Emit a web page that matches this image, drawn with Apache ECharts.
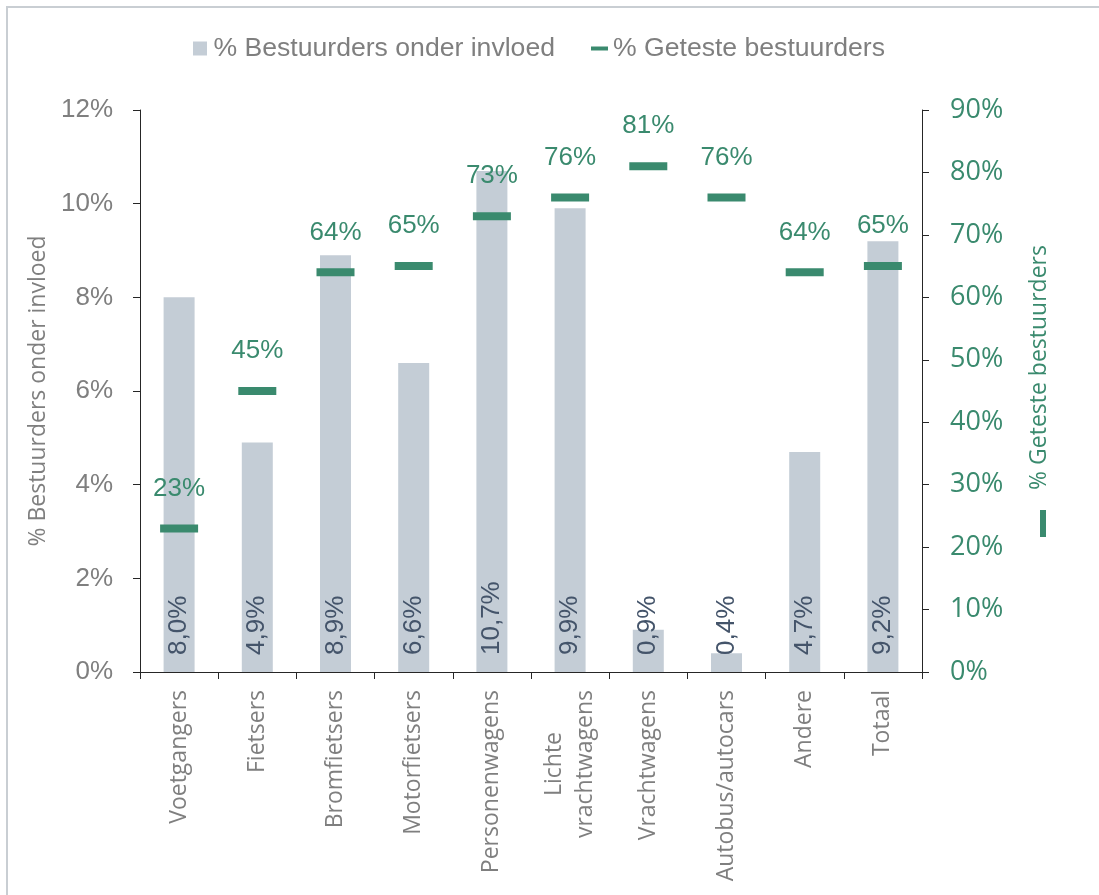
<!DOCTYPE html>
<html>
<head>
<meta charset="utf-8">
<script src="https://cdn.jsdelivr.net/npm/echarts@6/dist/echarts.min.js"></script>
<style>
  html, body { margin: 0; padding: 0; background: #ffffff; }
  #chart { width: 1099px; height: 895px; }
</style>
</head>
<body>
<div id="chart"></div>
<script>
// Road users: share of drivers under influence (bars, left axis)
// and share of drivers tested (dashes, right axis)
const categories = [
  'Voetgangers', 'Fietsers', 'Bromfietsers', 'Motorfietsers', 'Personenwagens',
  'Lichte\nvrachtwagens', 'Vrachtwagens', 'Autobus/autocars', 'Andere', 'Totaal'
];
const underInfluence = [8.0, 4.9, 8.9, 6.6, 10.7, 9.9, 0.9, 0.4, 4.7, 9.2];
const testedShare = [23, 45, 64, 65, 73, 76, 81, 76, 64, 65];

const seriesNames = ['% Bestuurders onder invloed', '% Geteste bestuurders'];
const axisNames = ['% Bestuurders onder invloed', '% Geteste bestuurders'];

const GREEN = '#3a8a6e';
const BAR = '#c4cdd6';
const GRAY = '#7f7f7f';
const DARK = '#44546a';
const AXIS = '#262626';
const SANS = 'Liberation Sans';
const HUMANIST = 'Open Sans';

const chart = echarts.init(document.getElementById('chart'), null, { renderer: 'canvas' });

chart.setOption({
  backgroundColor: '#ffffff',
  animation: false,
  graphic: [
    {
      type: 'rect', silent: true, z: -1,
      shape: { x: 7, y: 7, width: 1200, height: 1000 },
      style: { fill: 'none', stroke: '#c9ced3', lineWidth: 2 }
    },
    {
      // small key swatch that sits with the right axis title
      type: 'rect', silent: true,
      shape: { x: 1040, y: 510, width: 6, height: 27 },
      style: { fill: GREEN }
    }
  ],
  legend: {
    left: 188,
    top: 30,
    itemWidth: 17,
    itemHeight: 14,
    itemGap: 36,
    textStyle: { color: GRAY, fontFamily: SANS, fontSize: 26.6 },
    data: [
      { name: seriesNames[0], icon: 'path://M0 0H14V14H0Z' },
      { name: seriesNames[1], icon: 'path://M0 0H17V4H0Z' }
    ]
  },
  grid: { left: 140, right: 177, top: 110, bottom: 223, containLabel: false },
  xAxis: {
    type: 'category',
    data: categories,
    axisLine: { show: true, lineStyle: { color: AXIS, width: 1 } },
    axisTick: { show: true, length: 7, lineStyle: { color: AXIS } },
    axisLabel: {
      rotate: 90,
      margin: 18,
      interval: 0,
      color: GRAY,
      fontFamily: HUMANIST,
      fontSize: 23,
      formatter: v => v.split('\n').map(s => '{c|' + s + '}').join('\n'),
      rich: {
        c: { align: 'center', color: GRAY, fontFamily: HUMANIST, fontSize: 23, lineHeight: 31 }
      }
    },
    splitLine: { show: false }
  },
  yAxis: [
    {
      type: 'value',
      position: 'left',
      min: 0, max: 12, interval: 2,
      name: axisNames[0],
      nameLocation: 'middle',
      nameGap: 85,
      nameTextStyle: { color: GRAY, fontFamily: HUMANIST, fontSize: 23 },
      axisLine: { show: true, lineStyle: { color: AXIS, width: 1 } },
      axisTick: { show: true, length: 7, lineStyle: { color: AXIS } },
      axisLabel: { formatter: '{value}%', color: GRAY, fontFamily: SANS, fontSize: 26, margin: 27 },
      splitLine: { show: false }
    },
    {
      type: 'value',
      position: 'right',
      min: 0, max: 90, interval: 10,
      name: axisNames[1],
      nameLocation: 'middle',
      nameGap: 106,
      nameTextStyle: { color: GREEN, fontFamily: HUMANIST, fontSize: 23, padding: [0, 0, 0, 47] },
      axisLine: { show: true, lineStyle: { color: AXIS, width: 1 } },
      axisTick: { show: true, length: 7, lineStyle: { color: AXIS } },
      axisLabel: { formatter: '{value}%', color: GREEN, fontFamily: HUMANIST, fontSize: 27, margin: 28 },
      splitLine: { show: false }
    }
  ],
  series: [
    {
      name: seriesNames[0],
      type: 'bar',
      yAxisIndex: 0,
      data: underInfluence,
      barWidth: 31,
      itemStyle: { color: BAR },
      label: {
        show: true,
        position: 'insideBottom',
        rotate: 90,
        align: 'left',
        verticalAlign: 'middle',
        distance: 17,
        color: DARK,
        fontFamily: SANS,
        fontSize: 26,
        formatter: p => p.value.toFixed(1).replace('.', ',') + '%'
      }
    },
    {
      name: seriesNames[1],
      type: 'scatter',
      yAxisIndex: 1,
      data: testedShare,
      symbol: 'rect',
      symbolSize: [38, 8],
      itemStyle: { color: GREEN, opacity: 1 },
      z: 3,
      label: {
        show: true,
        position: 'top',
        distance: 23,
        color: GREEN,
        fontFamily: SANS,
        fontSize: 26,
        formatter: p => p.value + '%'
      }
    }
  ]
});
</script>
</body>
</html>
